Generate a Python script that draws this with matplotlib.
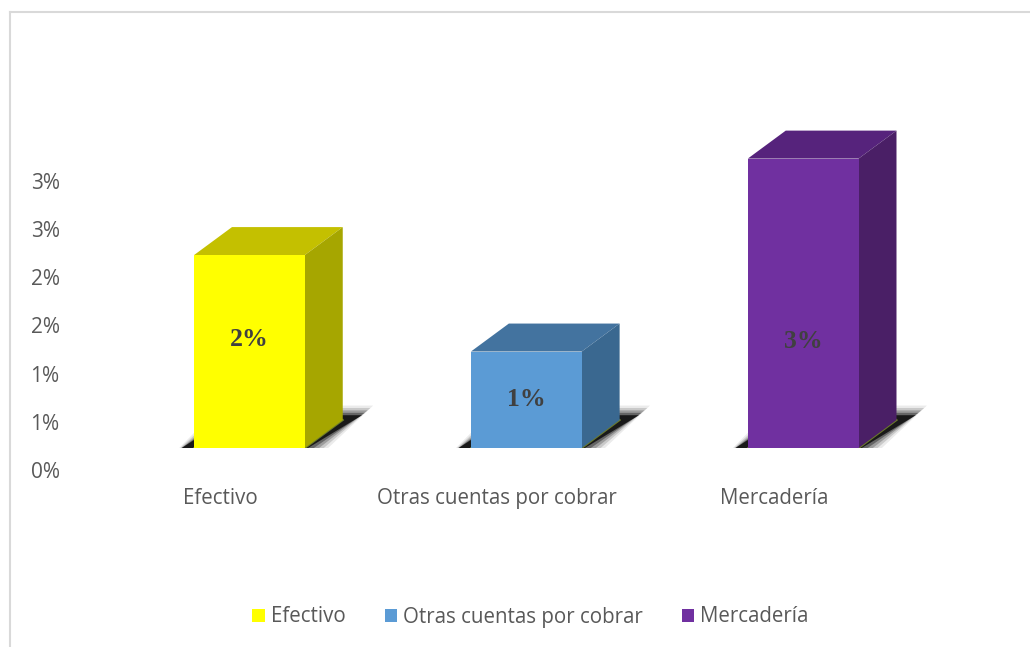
import matplotlib
matplotlib.use('Agg')
import matplotlib.pyplot as plt
from matplotlib.patches import Polygon, Patch
from matplotlib.lines import Line2D
from matplotlib.transforms import ScaledTranslation

# datos
categorias = ['Efectivo', 'Otras cuentas por cobrar', 'Mercadería']
valores = [2.0, 1.0, 3.0]          # en %
etiquetas = ['2%', '1%', '3%']
ticks_y = [0, 0.5, 1.0, 1.5, 2.0, 2.5, 3.0]
ticks_txt = ['0%', '1%', '1%', '2%', '2%', '3%', '3%']

# estilo
frente = ['#FFFF00', '#5B9BD5', '#7030A0']
arriba = ['#C4C000', '#43739F', '#56237C']
lado = ['#A6A600', '#3A6890', '#4A1F66']
pos_etiqueta = [1.12, 0.50, 1.10]
ancho = 0.40
dx = 0.137
dy = 0.29
gris = '#595959'

plt.rcParams['font.family'] = ['Open Sans', 'DejaVu Sans']

fig = plt.figure(figsize=(10.3, 6.47), dpi=100)
ax = fig.add_axes([111 / 1030, 199 / 647, (997 - 111) / 1030, (448 - 120) / 647])
ax.set_xlim(-0.5, 2.7)
ax.set_ylim(0, 3.4)

x = list(range(len(categorias)))

# sombras difuminadas bajo cada barra
for i in x:
    x0, x1 = i - ancho / 2, i + ancho / 2
    for k, a in [(0.04, 0.08), (0.03, 0.14), (0.02, 0.22), (0.01, 0.35), (0.0, 0.75)]:
        ey = k * 2.5
        pts = [(x0 - 0.055 - k, -0.02 - ey), (x1 + k, -0.02 - ey),
               (x1 + dx + 0.07 + k, dy + 0.05 + ey), (x0 + dx - k, dy + 0.05 + ey)]
        ax.add_patch(Polygon(pts, closed=True, facecolor='black', alpha=a,
                             edgecolor='none', zorder=1))
    ax.plot([x1, x1 + dx], [0, dy], color='#6B7A2A', lw=1.5, zorder=2)
    ax.plot([x0, x1], [0, 0], color='#6B7A2A', lw=1.2, zorder=2)

# barras
ax.bar(x, valores, width=ancho, color=frente, zorder=4)
for i, v in zip(x, valores):
    x0, x1 = i - ancho / 2, i + ancho / 2
    ax.add_patch(Polygon([(x0, v), (x1, v), (x1 + dx, v + dy), (x0 + dx, v + dy)],
                         closed=True, facecolor=arriba[i], edgecolor='none', zorder=3))
    ax.add_patch(Polygon([(x1, 0), (x1 + dx, dy), (x1 + dx, v + dy), (x1, v)],
                         closed=True, facecolor=lado[i], edgecolor='none', zorder=3))
    ax.text(i, pos_etiqueta[i], etiquetas[i], ha='center', va='center',
            fontsize=18.5, fontweight='bold', color='#404040',
            family=['Liberation Serif', 'DejaVu Serif'], zorder=5)

# ejes
for s in ax.spines.values():
    s.set_visible(False)
ax.set_yticks(ticks_y)
ax.set_yticklabels(ticks_txt, fontsize=15, color=gris)
ax.tick_params(axis='y', length=0, pad=37)
for lab in ax.get_yticklabels():
    lab.set_transform(lab.get_transform() + ScaledTranslation(0, -0.22, fig.dpi_scale_trans))

ax.set_xticks(x)
ax.set_xticklabels(categorias, fontsize=14.8, color=gris)
ax.tick_params(axis='x', length=0, pad=29)
for lab in ax.get_xticklabels():
    lab.set_transform(lab.get_transform() + ScaledTranslation(-0.29, 0, fig.dpi_scale_trans))
ax.patch.set_visible(False)

# leyenda
handles = [Patch(facecolor=c, edgecolor='none') for c in frente]
fig.legend(handles, categorias, loc='center', ncol=3, frameon=False,
           bbox_to_anchor=(0.515, 1 - 617 / 647), fontsize=14.8,
           handlelength=0.6, handleheight=0.6, handletextpad=0.3,
           columnspacing=1.9, labelcolor=gris)

# borde
fig.add_artist(Line2D([9.5 / 1030, 1], [1 - 11.5 / 647, 1 - 11.5 / 647],
                      transform=fig.transFigure, color='#D9D9D9', lw=1.5))
fig.add_artist(Line2D([9.5 / 1030, 9.5 / 1030], [0, 1 - 11.5 / 647],
                      transform=fig.transFigure, color='#D9D9D9', lw=1.5))

fig.savefig('out.png', dpi=100)
